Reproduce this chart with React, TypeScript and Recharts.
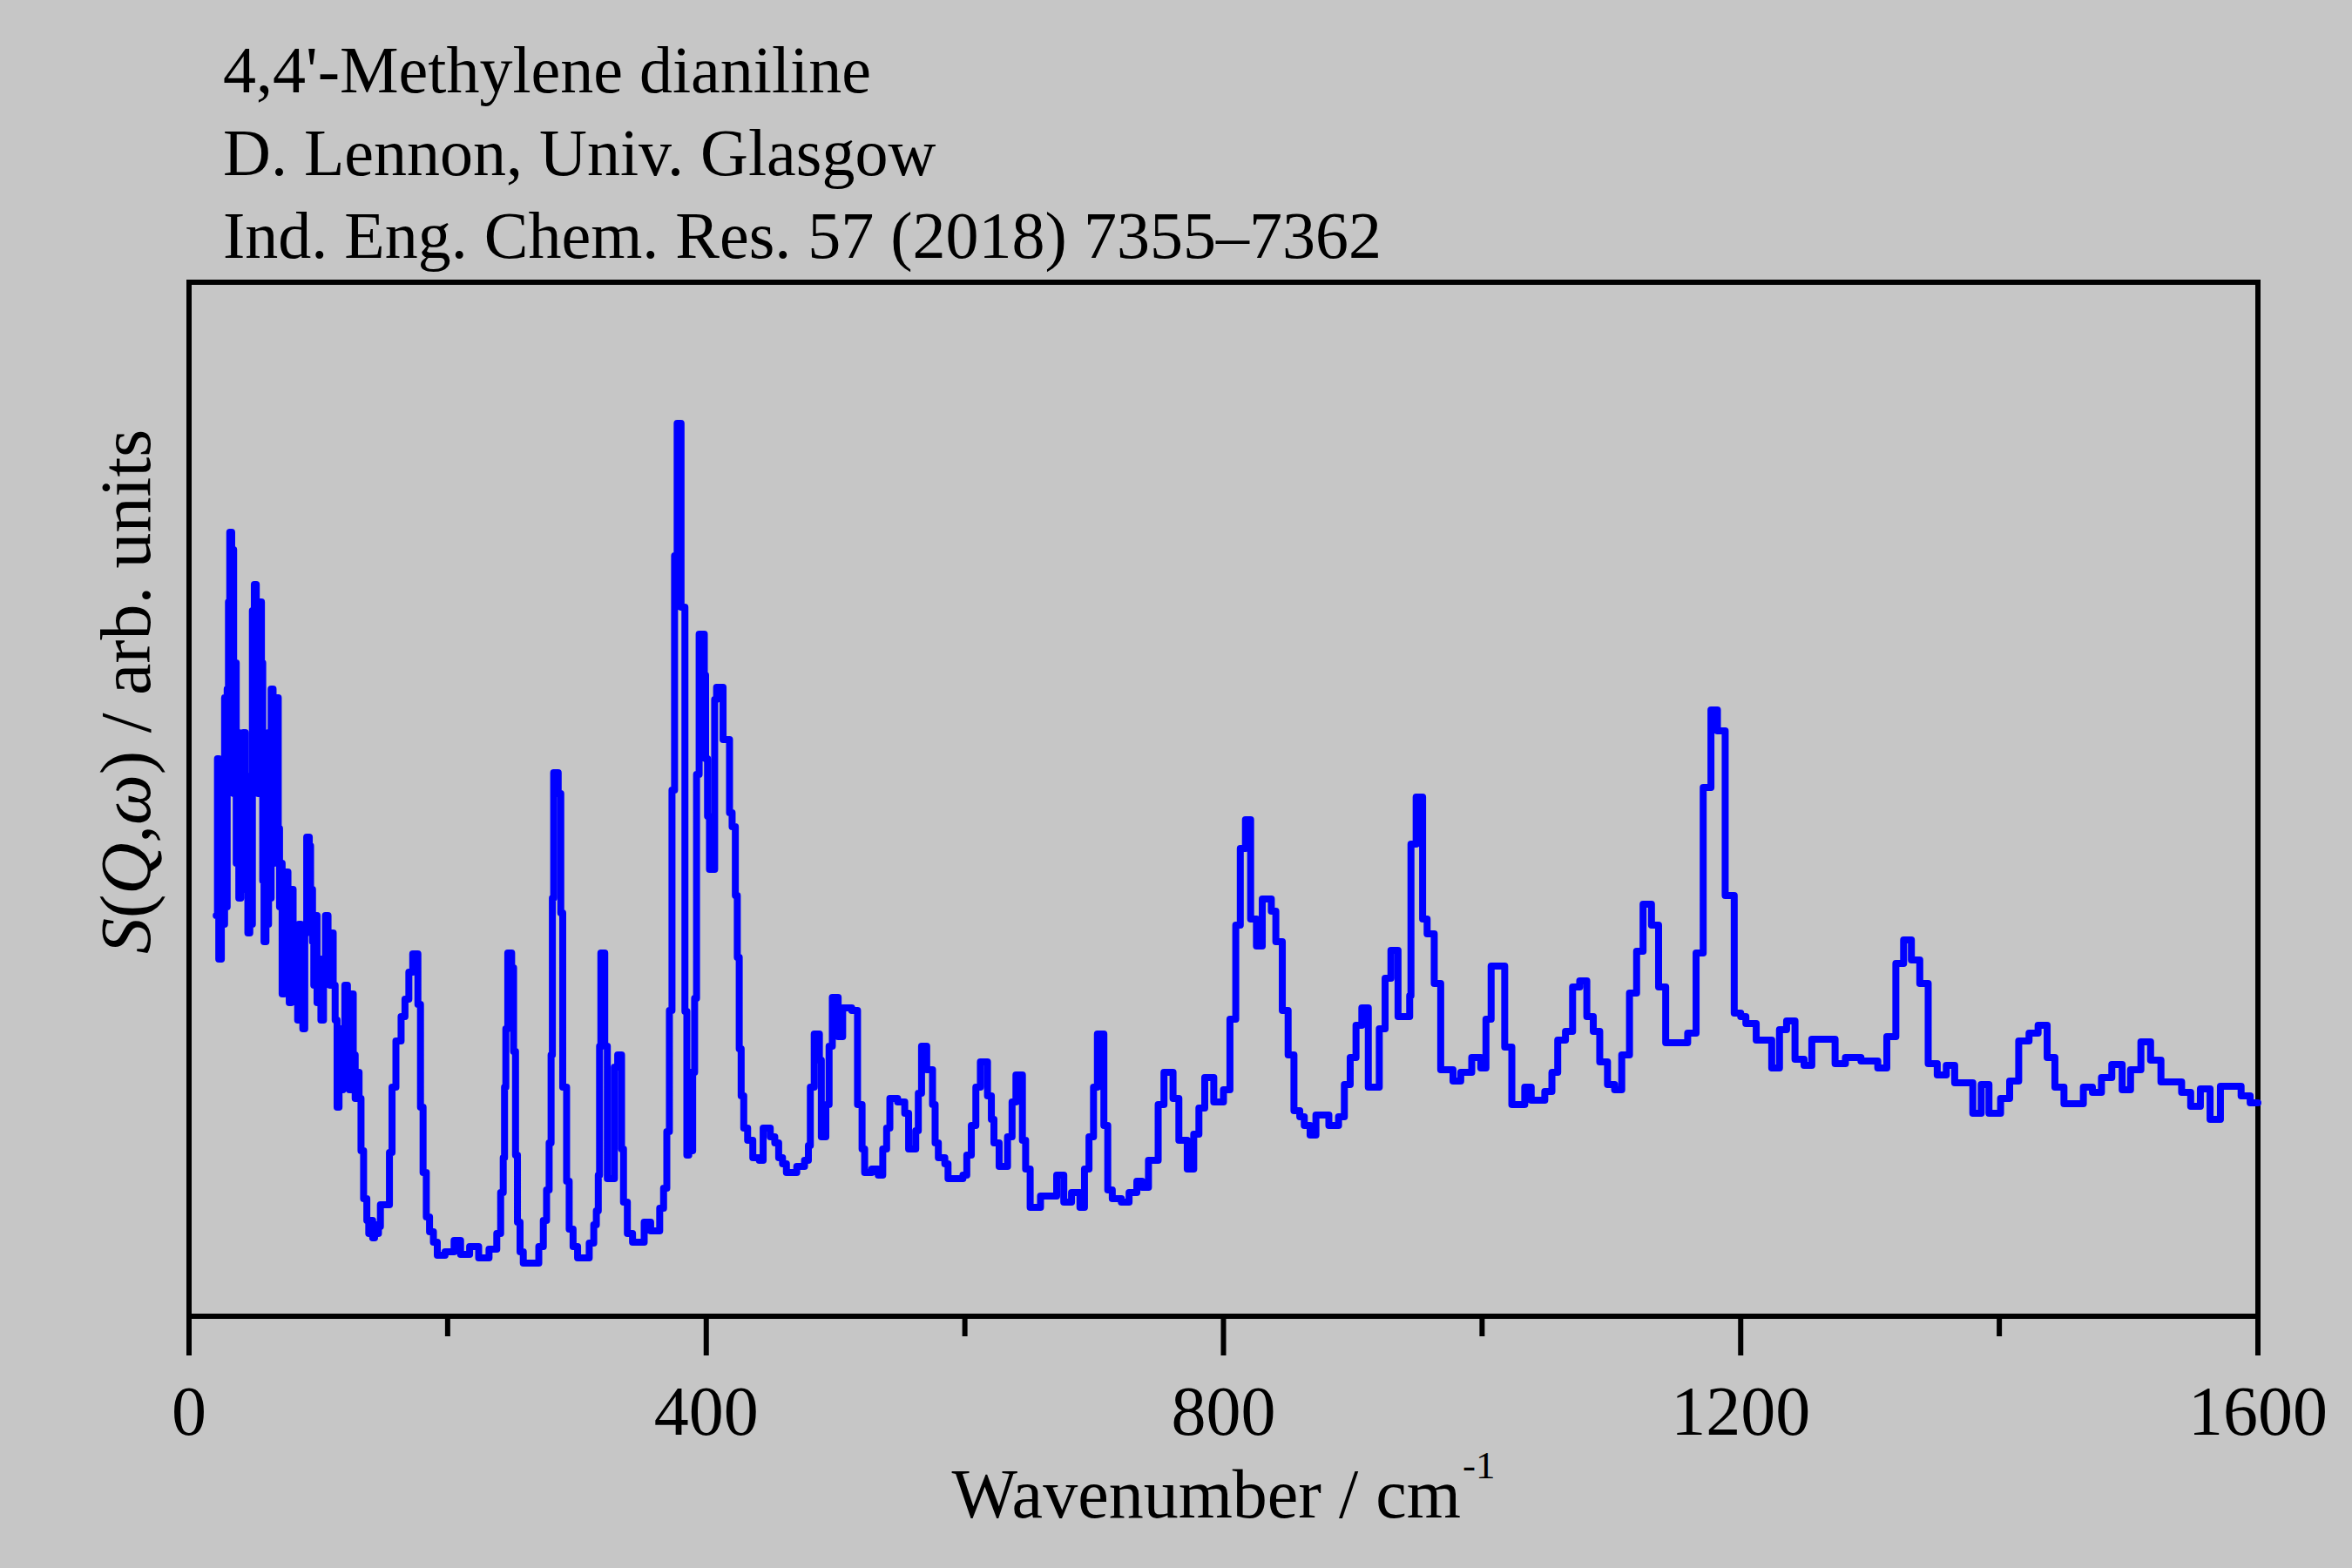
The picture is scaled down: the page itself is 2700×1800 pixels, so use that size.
import { LineChart, Line, XAxis, YAxis, ReferenceArea } from "recharts";

// wavenumber (cm-1) at the left edge of each histogram step
const wavenumber = [
  21, 22, 23, 25, 26.5, 27.5, 28.5, 29.5, 30.5, 31.5, 33, 34.5, 35.5, 36.5, 37.5, 38.5, 40, 41, 42, 43.5,
  44.5, 45.5, 47, 48, 49, 50.5, 52, 53.5, 54.5, 56, 57, 58, 59.5, 60.5, 61.5, 62.5, 63.5, 65, 66, 67,
  68, 69, 70, 71, 72, 73.5, 75, 76.5, 77.5, 79, 80.5, 81.5, 82.5, 84, 85, 86.5, 88, 89.5, 91, 93,
  94, 95.5, 96.5, 97.5, 99, 100.5, 102, 104, 105.5, 107.5, 109, 110, 111.5, 113, 114.5, 116, 117.5, 119, 120.5, 122.5,
  124, 125.5, 127, 128.5, 130, 131.5, 133, 135, 137.5, 139, 140.5, 142, 143.5, 145, 146.5, 148, 155, 157, 160, 164,
  167, 170, 173, 177, 179, 181, 183.5, 186, 189, 192, 198, 205, 210, 217, 224, 232, 238, 241, 243, 244,
  245, 246.5, 249.5, 251, 252.5, 254, 256, 258.5, 270.5, 274, 276.5, 278.5, 280, 281, 282, 285.5, 287.5, 289, 292, 294,
  297, 300.5, 309.5, 313, 315, 316.5, 317.5, 318.5, 321.5, 323.5, 329, 331.5, 334.5, 336, 339, 343, 352, 357, 364, 367,
  369.5, 371.5, 373.5, 375.5, 377.5, 380.5, 383.5, 385, 386.5, 388, 389.5, 391, 392.5, 394.5, 398.5, 399.5, 401, 402.5, 406.5, 408,
  413, 418, 420, 422.5, 424, 425.5, 427, 429, 432, 436, 441, 444, 449.5, 453, 456, 459, 462, 470, 476, 479,
  480.5, 483.5, 487.5, 489, 492.5, 495, 497.5, 502, 505.5, 512.5, 517, 520.5, 522.5, 528, 533, 536.5, 539.5, 542, 548, 553.5,
  556.5, 562, 564, 566.5, 570.5, 575, 577, 579.5, 584.5, 587, 598.5, 601.5, 605, 608.5, 612, 617.5, 620.5, 622.5, 626.5, 633,
  636.5, 639.5, 644.5, 647, 650.5, 658.5, 671, 676.5, 682.5, 689, 692.5, 696, 699.5, 702.5, 707.5, 710.5, 714, 721, 727, 733,
  737, 742, 749.5, 754, 761, 765.5, 772, 777, 781, 785.5, 792.5, 800, 805, 809.5, 813, 817, 821, 825.5, 830, 837,
  840.5, 845.5, 850, 854.5, 859, 862.5, 867, 871.5, 881.5, 889, 893.5, 898, 902.5, 907, 912, 920.5, 925, 929.5, 935, 944,
  945, 949, 954, 957.5, 963, 968, 977.5, 983.5, 992, 999, 1003, 1007, 1017.5, 1023, 1033, 1038, 1048.5, 1054, 1058.5, 1064.5,
  1070, 1075.5, 1081, 1086, 1091, 1097, 1102.5, 1108, 1114, 1119.5, 1124.5, 1131, 1136.5, 1142, 1159, 1165.5, 1171, 1177, 1182, 1188,
  1195, 1200, 1204, 1212, 1224, 1230, 1235.5, 1242, 1249, 1255, 1273, 1281, 1293, 1306, 1313, 1320, 1326, 1332, 1338.5, 1345,
  1352, 1359, 1365.5, 1379.5, 1386, 1392, 1401, 1408, 1415, 1423, 1430, 1437, 1443, 1450, 1465, 1472, 1479, 1487, 1495, 1501.5,
  1509.5, 1517, 1525, 1541, 1548, 1555.5, 1563, 1571, 1587, 1594, 1600,
];

// S(Q,w), arbitrary units
const intensity = [
  46, 64, 41, 60, 45, 71, 47, 72, 82, 90, 88, 60, 75, 52, 67, 48, 66, 49, 67, 52,
  62, 44, 58, 45, 81, 84, 70, 60, 82, 75, 50, 43, 62, 45, 67, 48, 72, 52, 70, 60,
  71, 56, 47, 52, 37, 44, 51, 40, 36, 49, 42, 39, 44, 34, 45, 40, 33, 44, 55, 54,
  49, 43, 38, 46, 36, 41, 34, 40, 46, 44, 38, 44, 38, 34, 24, 33, 26, 31, 38, 36,
  26, 37, 30, 25, 28, 25, 19, 13.5, 11, 9.5, 11, 9, 10.5, 9.5, 10.3, 12.8, 18.8, 26.3, 31.6, 34.4,
  36.4, 39.5, 41.6, 35.8, 24, 16.5, 11.4, 9.7, 8.5, 7, 7.4, 8.7, 7.1, 8, 6.7, 7.7, 9.5, 14.2, 18.2, 26.3,
  33, 41.7, 40, 30.4, 18.5, 10.8, 7.4, 6.1, 8, 11, 14.5, 19.9, 30, 48, 62.4, 60, 46.3, 26.3, 15.5, 10,
  8, 6.7, 8.4, 10.5, 12.1, 16.2, 31, 41.7, 31, 15.8, 28.6, 30, 19.2, 13.1, 9.5, 8.5, 10.8, 9.8, 12.4, 14.7,
  21.2, 35.1, 60.4, 87.3, 102.5, 81.4, 35, 18.5, 28, 19, 28, 36.5, 62.2, 78.3, 73.6, 64, 57.4, 51.3, 70.8, 72.2,
  66.2, 57.8, 56.2, 48.3, 41.2, 30.7, 25.3, 21.6, 20.2, 18.2, 17.9, 21.6, 20.6, 19.9, 18.2, 17.5, 16.5, 17.2, 17.9, 19.6,
  26.3, 32.4, 29.4, 20.6, 24.3, 31, 36.6, 32.1, 35.4, 35.1, 24.3, 19.2, 16.5, 16.9, 16.2, 19.2, 21.6, 25, 24.6, 23.3,
  19.2, 21.3, 25.6, 31, 28.3, 24.3, 19.9, 18.2, 17.5, 15.8, 16.2, 18.5, 21.9, 26.3, 29.2, 25.3, 22.6, 19.9, 17.2, 20.6,
  24.6, 27.7, 20.2, 16.9, 12.5, 13.8, 16.2, 13.1, 14.2, 12.5, 16.9, 20.6, 26.3, 32.4, 21.9, 14.5, 13.5, 13.1, 14.2, 15.5,
  14.8, 17.9, 24.3, 28, 25, 20.2, 16.9, 20.9, 23.9, 27.4, 24.6, 26, 34.1, 44.9, 53.7, 57, 45.6, 42.5, 47.9, 46.5,
  43, 35.1, 30, 23.6, 22.9, 21.9, 20.8, 23.1, 21.9, 22.9, 26.6, 29.7, 33.4, 35.4, 26.3, 33, 38.8, 42, 34.4, 36.8,
  54.2, 59.6, 45.6, 43.9, 38.2, 28.3, 27, 28, 29.7, 28.5, 34.1, 40.2, 30.9, 24.3, 26.3, 24.8, 25.8, 28, 31.7, 32.7,
  37.8, 38.5, 34.4, 32.7, 29.2, 26.6, 26, 30, 37.1, 41.9, 47.3, 44.9, 37.8, 31.4, 32.5, 41.7, 60.7, 69.6, 67.2, 48.3,
  34.8, 34.4, 33.6, 31.7, 28.5, 32.9, 33.9, 29.5, 28.8, 31.8, 29, 29.7, 29.3, 28.5, 32.1, 40.5, 43.2, 40.9, 38.2, 29,
  27.7, 28.8, 26.8, 23.3, 26.6, 23.3, 25, 27, 31.6, 32.5, 33.4, 29.7, 26.3, 24.4, 26.3, 25.7, 27.4, 28.9, 26, 28.3,
  31.5, 29.4, 26.9, 25.7, 24.1, 26.1, 22.6, 26.4, 25.3, 24.5, 24.5,
];

const xTicks = [0, 200, 400, 600, 800, 1000, 1200, 1400, 1600];
const xLabelTicks = [0, 400, 800, 1200, 1600];
const Y_MAX = 118.7;

const titleLines = [
  "4,4'-Methylene dianiline",
  "D. Lennon, Univ. Glasgow",
  "Ind. Eng. Chem. Res. 57 (2018) 7355\u20137362",
];

const FONT = "'Liberation Serif', 'Times New Roman', serif";
const BG = "#c6c6c6";

const chartData = wavenumber.map((w, i) => ({ w, s: intensity[i] }));

function BottomTick(props: any) {
  const { x, y, payload } = props;
  const major = xLabelTicks.includes(payload.value);
  return (
    <g>
      <line x1={x} x2={x} y1={y} y2={y + (major ? 45 : 23)} stroke="#000" strokeWidth={6} />
      {major && (
        <text x={x} y={y + 136} textAnchor="middle" fontSize={80} fontFamily={FONT} fill="#000">
          {payload.value}
        </text>
      )}
    </g>
  );
}

function TopTick(props: any) {
  const { x, y, payload } = props;
  const major = xLabelTicks.includes(payload.value);
  return <line x1={x} x2={x} y1={y} y2={y + (major ? 45 : 23)} stroke="#000" strokeWidth={6} />;
}

export default function App() {
  return (
    <div style={{ position: "relative", width: 2700, height: 1800, background: BG, fontFamily: FONT, color: "#000" }}>
      <style>{`body{margin:0;background:${BG};}`}</style>
      <div style={{ position: "absolute", left: 0, top: 0 }}>
        <LineChart width={2700} height={1800} data={chartData} margin={{ top: 324, right: 108, bottom: 0, left: 217 }}>
          <XAxis
            dataKey="w"
            type="number"
            domain={[0, 1600]}
            ticks={xTicks}
            interval={0}
            tickSize={0}
            tickMargin={0}
            axisLine={false}
            tickLine={false}
            tick={<BottomTick />}
            height={289}
          />
          <XAxis
            xAxisId="top"
            orientation="top"
            mirror
            type="number"
            domain={[0, 1600]}
            ticks={xTicks}
            interval={0}
            tickSize={0}
            tickMargin={0}
            axisLine={false}
            tickLine={false}
            tick={<TopTick />}
            height={0}
          />
          <YAxis hide type="number" domain={[0, Y_MAX]} />
          <ReferenceArea x1={0} x2={1600} y1={0} y2={Y_MAX} fill="none" stroke="#000" strokeWidth={6} ifOverflow="visible" />
          <Line
            type="stepAfter"
            dataKey="s"
            stroke="#0000ff"
            strokeWidth={8}
            strokeLinejoin="round"
            strokeLinecap="round"
            dot={false}
            activeDot={false}
            isAnimationActive={false}
          />
        </LineChart>
      </div>

      <div style={{ position: "absolute", left: 256, top: 33, fontSize: 76, lineHeight: "95px", whiteSpace: "nowrap" }}>
        {titleLines.map((t) => (
          <div key={t}>{t}</div>
        ))}
      </div>

      <div
        style={{
          position: "absolute",
          left: 217,
          top: 1675,
          width: 2375,
          textAlign: "center",
          fontSize: 80,
          lineHeight: "80px",
          whiteSpace: "nowrap",
        }}
      >
        Wavenumber / cm
        <span style={{ fontSize: 45, position: "relative", top: -45, marginLeft: 2 }}>-1</span>
      </div>

      <div
        style={{
          position: "absolute",
          left: 145 - 500,
          top: 794 - 40,
          width: 1000,
          height: 80,
          textAlign: "center",
          fontSize: 82,
          lineHeight: "80px",
          whiteSpace: "nowrap",
          transform: "rotate(-90deg)",
        }}
      >
        <i>S</i>(<i>Q</i>,<i>ω</i>) / arb. units
      </div>
    </div>
  );
}
